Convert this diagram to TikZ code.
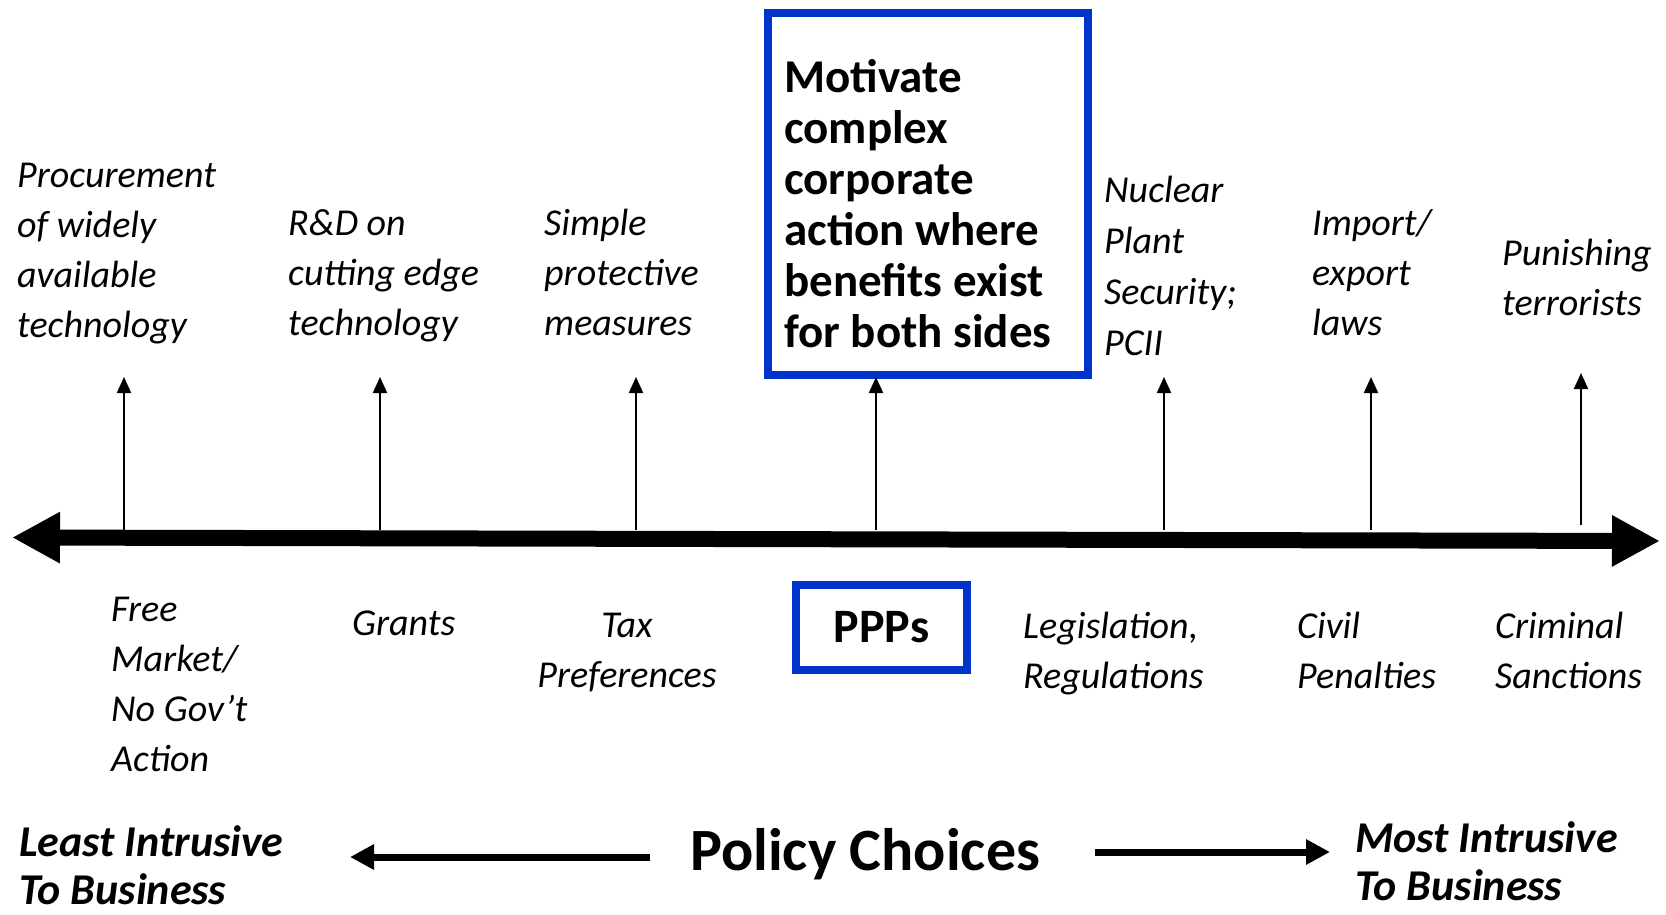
\documentclass[tikz,border=0pt]{standalone}
\usepackage{fontspec}
\setmainfont{Carlito}
\usetikzlibrary{arrows.meta}
\definecolor{boxblue}{RGB}{0,51,204}
\tikzset{
  choice/.style = {anchor=base west, align=left, inner sep=0pt,
                   font=\fontsize{38}{50}\selectfont\itshape},
  strong/.style = {anchor=base west, align=left, inner sep=0pt,
                   font=\fontsize{47}{51}\selectfont\bfseries},
  ends/.style   = {anchor=base west, align=left, inner sep=0pt,
                   font=\fontsize{44}{48}\selectfont\bfseries\itshape},
  bluebox/.style = {draw=boxblue, line width=8pt, inner sep=0pt},
  axis/.style   = {line width=16pt,
                   {Triangle[length=48pt,width=48pt]}-{Triangle[length=48pt,width=48pt]}},
  uparr/.style  = {line width=2pt, -{Triangle[length=16pt,width=14pt]}},
  dirarr/.style = {line width=7pt, -{Triangle[length=24pt,width=24pt]}}
}
\begin{document}
\begin{tikzpicture}[x=1pt,y=-1pt]
  \useasboundingbox (0,0) rectangle (1666,914);

  % upper row: what each policy is used for (placed by the last baseline)
  \node[choice] (proc)    at (17,337)   {Procurement\\of widely\\available\\technology};
  \node[choice] (rnd)     at (288,335)  {R\&D on\\cutting edge\\technology};
  \node[choice] (simple)  at (544,335)  {Simple\\protective\\measures};
  \node[bluebox, anchor=north west, minimum width=320pt, minimum height=362pt]
        (motivbox) at (764,9) {};
  \node[strong] (motiv)   at (784,347)  {Motivate\\complex\\corporate\\action where\\benefits exist\\for both sides};
  \node[choice, font=\fontsize{38}{51}\selectfont\itshape]
        (nuclear) at (1104,355) {Nuclear\\Plant\\Security;\\PCII};
  \node[choice] (impexp)  at (1312,335) {Import/\\export\\laws};
  \node[choice] (punish)  at (1502,315) {Punishing\\terrorists};

  % the scale itself
  \coordinate (axl) at (12,537.5);
  \coordinate (axr) at (1660,541);
  \draw[axis] (axl) -- (axr);
  \foreach \x/\top/\bot [count=\i] in {124/377/530, 380/377/530, 636/377/530,
      876/377/530, 1164/377/530, 1371/377/530, 1581/373/525} {
    \coordinate (base\i) at (\x,\bot);
    \coordinate (tip\i) at (\x,\top);
    \draw[uparr] (base\i) -- (tip\i);
  }

  % lower row: the policy tools
  \node[choice] (free)     at (111,771)  {Free\\Market/\\No Gov’t\\Action};
  \node[choice] (grants)   at (352,635)  {Grants};
  \node[choice, anchor=base, align=center] (tax) at (627,687) {Tax\\Preferences};
  \node[bluebox, minimum width=171pt, minimum height=85pt,
        font=\fontsize{48}{56}\selectfont\bfseries] (ppps) at (881.5,627.5) {PPPs};
  \node[choice] (legis)    at (1023,688) {Legislation,\\Regulations};
  \node[choice] (civil)    at (1297,688) {Civil\\Penalties};
  \node[choice] (criminal) at (1495,688) {Criminal\\Sanctions};

  % direction of the scale
  \node[ends] (least) at (19,904)   {Least Intrusive\\To Business};
  \node[ends] (most)  at (1355,900) {Most Intrusive\\To Business};
  \node[strong, font=\fontsize{60}{66}\selectfont\bfseries] (policy) at (690,870) {Policy Choices};
  \coordinate (lstart) at (650,857);
  \coordinate (lend)   at (350,857);
  \coordinate (rstart) at (1095,852);
  \coordinate (rend)   at (1330,852);
  \draw[dirarr] (lstart) -- (lend);
  \draw[dirarr] (rstart) -- (rend);
\end{tikzpicture}
\end{document}
